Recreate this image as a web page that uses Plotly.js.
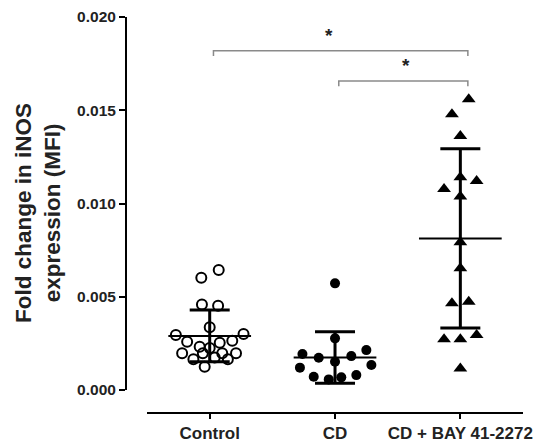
<!DOCTYPE html>
<html>
<head>
<meta charset="utf-8">
<script src="https://cdn.plot.ly/plotly-3.0.1.min.js"></script>
<style>html,body{margin:0;padding:0;background:#fff;}#chart{width:540px;height:446px;}</style>
</head>
<body>
<div id="chart"></div>
<script>
// ---- data ----
const categories = ['Control', 'CD', 'CD + BAY 41-2272'];

const controlValues  = [0.00643, 0.00602, 0.00459, 0.00452, 0.00336, 0.00295, 0.00300, 0.00259, 0.00232, 0.00254,
                        0.00264, 0.00225, 0.00197, 0.00165, 0.00197, 0.00197, 0.00197, 0.00165, 0.00125, 0.00175];
const controlOffsets = [0.072, -0.067, -0.062, 0.067, 0.0, -0.27, 0.27, -0.18, -0.08, 0.08,
                        0.18, 0.0, -0.22, -0.13, -0.055, 0.10, 0.21, 0.145, -0.04, 0.04];

const cdValues  = [0.00572, 0.00277, 0.00193, 0.00173, 0.00152, 0.00182, 0.00214, 0.00120, 0.00134, 0.00071, 0.00057, 0.00068, 0.00080];
const cdOffsets = [0.0, 0.0, -0.26, -0.13, 0.0, 0.13, 0.25, -0.28, 0.29, -0.17, -0.05, 0.05, 0.17];

const bayValues  = [0.01559, 0.01478, 0.01362, 0.01141, 0.01121, 0.01078, 0.01037, 0.00792, 0.00653, 0.00465,
                    0.00473, 0.00272, 0.00272, 0.00295, 0.00116];
const bayOffsets = [0.067, -0.067, 0.0, 0.0, 0.13, -0.13, 0.0, 0.0, 0.0, -0.067, 0.067, -0.13, 0.0, 0.13, 0.0];

const groupMeans = [0.00290, 0.00175, 0.00813];
const groupSDs   = [0.00139, 0.00138, 0.00480];

// significance comparisons: [from group, to group, level label]
const comparisons = [[0, 2, '*'], [1, 2, '*']];
const comparisonLevels = [0.01819, 0.01657];

// ---- build traces ----
const FONT = 'Liberation Sans, Arial, sans-serif';
function xs(center, offs) { return offs.map(o => center + o); }

const traces = [
  { type: 'scatter', mode: 'markers', name: categories[0],
    x: xs(0, controlOffsets), y: controlValues,
    marker: { symbol: 'circle-open', size: 10, color: '#000', line: { width: 2, color: '#000' } },
    cliponaxis: false, showlegend: false, hoverinfo: 'y' },
  { type: 'scatter', mode: 'markers', name: categories[1],
    x: xs(1, cdOffsets), y: cdValues,
    marker: { symbol: 'circle', size: 10, color: '#000' },
    cliponaxis: false, showlegend: false, hoverinfo: 'y' },
  { type: 'scatter', mode: 'markers', name: categories[2],
    x: xs(2, bayOffsets), y: bayValues,
    marker: { symbol: 'triangle-up', size: 12, color: '#000' },
    cliponaxis: false, showlegend: false, hoverinfo: 'y' }
];

// mean lines
const mx = [], my = [];
groupMeans.forEach((m, i) => { mx.push(i - 0.33, i + 0.33, null); my.push(m, m, null); });
traces.push({ type: 'scatter', mode: 'lines', x: mx, y: my,
  line: { color: '#000', width: 2 }, showlegend: false, hoverinfo: 'skip', cliponaxis: false });

// SD error bars
traces.push({ type: 'scatter', mode: 'markers', x: [0, 1, 2], y: groupMeans,
  marker: { size: 1, color: 'rgba(0,0,0,0)' },
  error_y: { type: 'data', array: groupSDs, visible: true, color: '#000', thickness: 3, width: 20 },
  showlegend: false, hoverinfo: 'skip', cliponaxis: false });

// ---- significance brackets ----
const shapes = [];
const annotations = [];
const tickDrop = 0.00028;
comparisons.forEach((c, k) => {
  const y = comparisonLevels[k];
  const x0 = c[0] + 0.03, x1 = c[1] + 0.06;
  shapes.push({ type: 'path', xref: 'x', yref: 'y',
    path: `M ${x0} ${y - tickDrop} L ${x0} ${y} L ${x1} ${y} L ${x1} ${y - tickDrop}`,
    line: { color: '#8a8a8a', width: 1.5 } });
  annotations.push({ xref: 'x', yref: 'y', x: k === 0 ? 0.95 : 1.57, y: y, yanchor: 'bottom', yshift: 3,
    text: c[2], showarrow: false, font: { family: FONT, size: 19, color: '#222', weight: 'bold' } });
});

// y axis title as rotated text
annotations.push({ xref: 'paper', yref: 'paper', x: -0.222, y: 0.505, xanchor: 'center', yanchor: 'middle',
  textangle: -90, showarrow: false,
  text: 'Fold change in iNOS<br>expression (MFI)',
  font: { family: FONT, size: 22.5, color: '#222', weight: 'bold' } });

const layout = {
  width: 540, height: 446,
  margin: { l: 126, r: 17, t: 17, b: 33 },
  paper_bgcolor: '#fff', plot_bgcolor: '#fff',
  showlegend: false,
  xaxis: {
    domain: [0.053, 1], anchor: 'free', position: 0,
    range: [-0.5, 2.5], tickmode: 'array', tickvals: [0, 1, 2], ticktext: categories,
    showline: true, linecolor: '#000', linewidth: 2,
    ticks: 'outside', ticklen: 5, tickwidth: 2, tickcolor: '#000',
    showgrid: false, zeroline: false,
    tickfont: { family: FONT, size: 17, color: '#222', weight: 'bold' }
  },
  yaxis: {
    domain: [0.058, 1], anchor: 'free', position: 0,
    range: [0, 0.02], tickmode: 'linear', tick0: 0, dtick: 0.005, tickformat: '.3f',
    showline: true, linecolor: '#000', linewidth: 2,
    ticks: 'outside', ticklen: 6, tickwidth: 2, tickcolor: '#000',
    showgrid: false, zeroline: false,
    tickfont: { family: FONT, size: 15.5, color: '#222', weight: 'bold' }
  },
  shapes: shapes,
  annotations: annotations
};

Plotly.newPlot('chart', traces, layout, { staticPlot: true, displayModeBar: false });
</script>
</body>
</html>
